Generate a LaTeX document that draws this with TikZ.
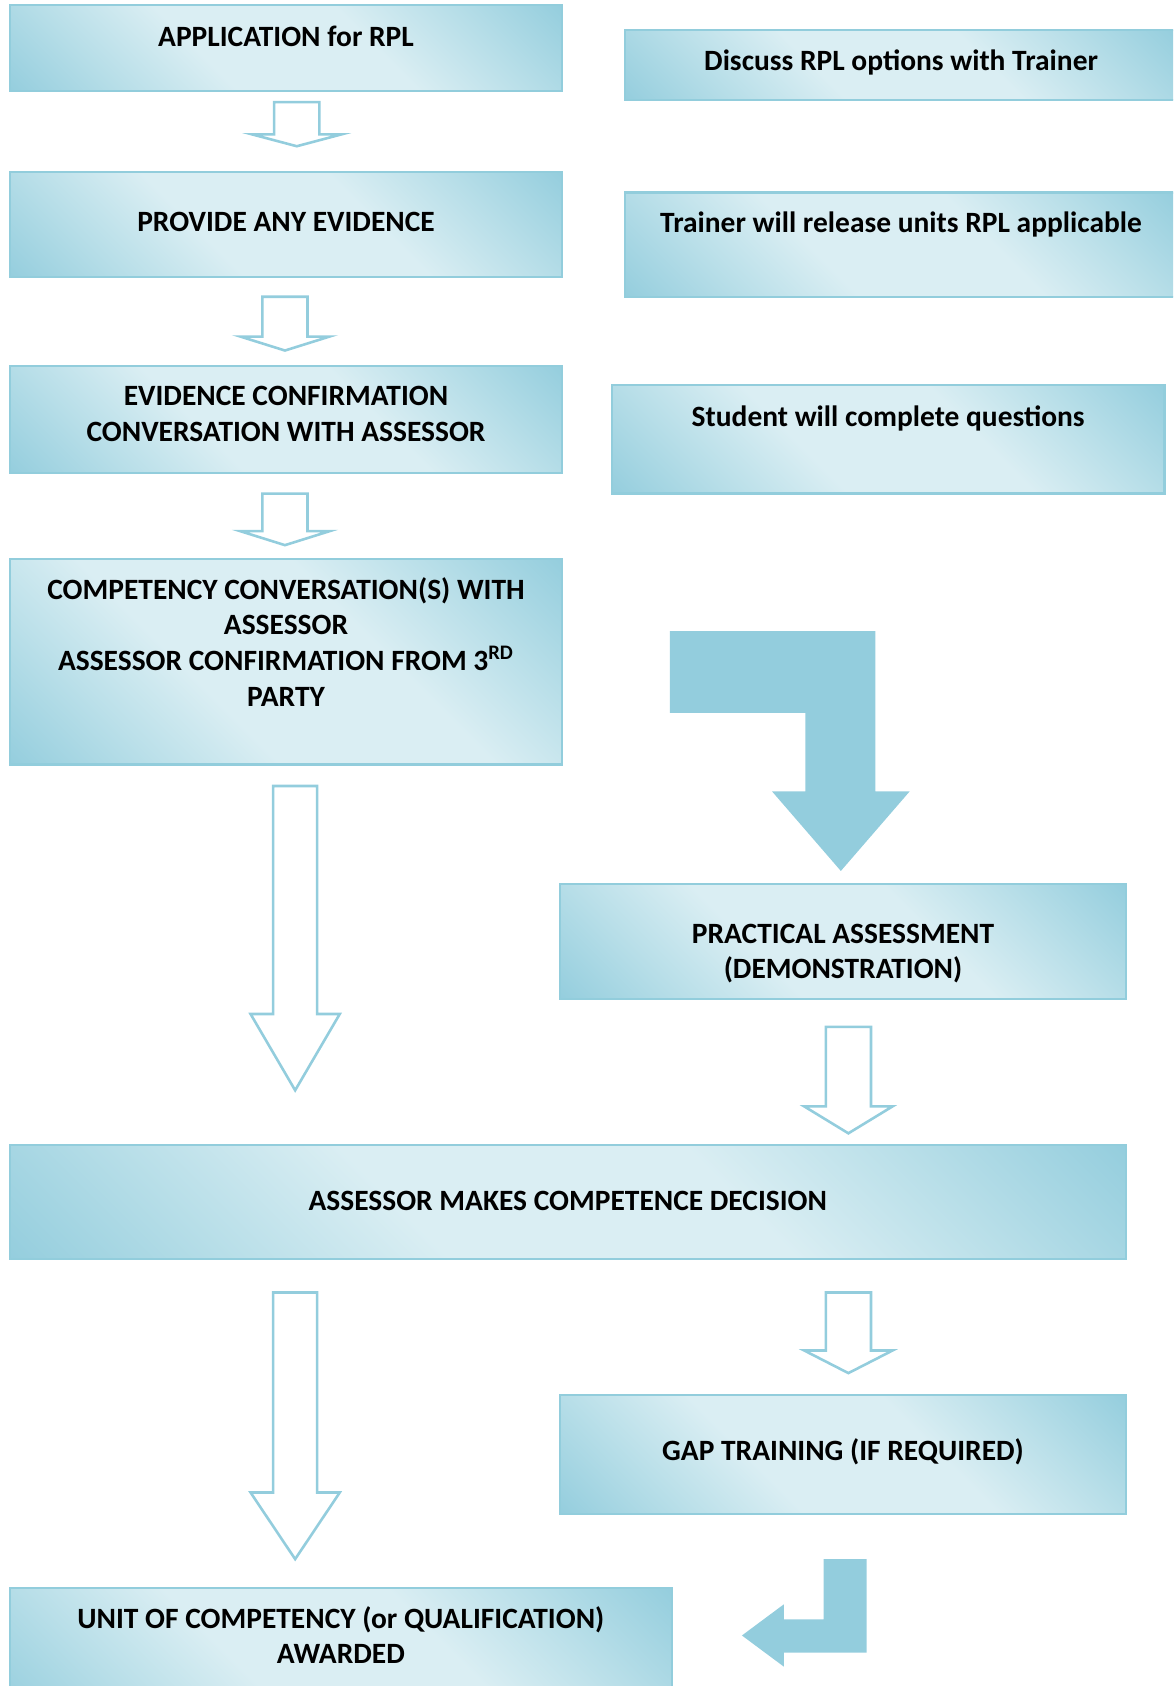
\documentclass[tikz,border=0pt]{standalone}
\usepackage{fontspec}
\setmainfont{Carlito}
\definecolor{dk}{HTML}{93CDDD}
\definecolor{md}{HTML}{B7DEE8}
\definecolor{lt}{HTML}{DAEEF3}
\definecolor{bd}{HTML}{92CDDC}
\pgfdeclarehorizontalshading{boxshade}{100bp}{color(0bp)=(dk); color(14bp)=(dk); color(27bp)=(md); color(40bp)=(lt); color(60bp)=(lt); color(73bp)=(md); color(86bp)=(dk); color(100bp)=(dk)}
\tikzset{
  box/.style={rectangle, draw=bd, line width=1pt, shading=boxshade, shading angle=45, inner sep=0pt},
  lbl/.style={font=\fontsize{13.7}{16.6}\selectfont\bfseries, align=center, inner sep=0pt, anchor=north},
  hollow/.style={draw=dk, line width=1.2pt, fill=white, line join=miter},
  solidarrow/.style={fill=dk, draw=none}
}
\newcommand\mkbox[5]{\node[box, minimum width={(#4-#2)*0.5pt}, minimum height={(#5-#3)*0.5pt}] (#1) at ({(#2+#4)/2},{(#3+#5)/2}) {};}
\newcommand\mktext[4]{\node[lbl] (#1) at (#2,{#3-13.2}) {\rule{0pt}{11pt}#4};}
\newcommand\hollowdown[6]{\draw[hollow] ({#1-#2},#3) -- ({#1+#2},#3) -- ({#1+#2},#4) -- ({#1+#5},#4) -- (#1,#6) -- ({#1-#5},#4) -- ({#1-#2},#4) -- cycle;}
\begin{document}
\begin{tikzpicture}[x=0.5pt,y=-0.5pt]
\useasboundingbox (0,0) rectangle (1091,1568);
\clip (0,0) rectangle (1091,1568);
% boxes
\mkbox{app}{9}{5}{523}{85}
\mkbox{disc}{581}{28}{1095}{93}
\mkbox{prov}{9}{160}{523}{258}
\mkbox{train}{581}{179}{1095}{276}
\mkbox{evid}{9}{340}{523}{440}
\mkbox{stud}{569}{358}{1083}{459}
\mkbox{comp}{9}{520}{523}{711}
\mkbox{prac}{521}{822}{1047}{929}
\mkbox{asse}{9}{1065}{1047}{1171}
\mkbox{gap}{521}{1297}{1047}{1408}
\mkbox{unit}{9}{1477}{625}{1600}
% texts
\mktext{tapp}{266}{34}{APPLICATION for RPL}
\mktext{tdisc}{838}{56}{Discuss RPL options with Trainer}
\mktext{tprov}{266}{206}{PROVIDE ANY EVIDENCE}
\mktext{ttrain}{838}{207}{Trainer will release units RPL applicable}
\mktext{tevid}{266}{368}{EVIDENCE CONFIRMATION\\CONVERSATION WITH ASSESSOR}
\mktext{tstud}{826}{387}{Student will complete questions}
\mktext{tcomp}{266}{548}{COMPETENCY CONVERSATION(S) WITH\\ASSESSOR\\ASSESSOR CONFIRMATION FROM 3\textsuperscript{RD}\\PARTY}
\mktext{tprac}{784}{868}{PRACTICAL ASSESSMENT\\(DEMONSTRATION)}
\mktext{tasse}{528}{1117}{ASSESSOR MAKES COMPETENCE DECISION}
\mktext{tgap}{784}{1349}{GAP TRAINING (IF REQUIRED)}
\mktext{tunit}{317}{1505}{UNIT OF COMPETENCY (or QUALIFICATION)\\AWARDED}
% hollow block arrows
\hollowdown{276}{21}{95}{125}{41.5}{136}
\hollowdown{265}{21}{276}{313}{41.5}{326}
\hollowdown{265}{21}{459}{494}{41.5}{507}
\hollowdown{274.5}{20.5}{731}{943}{41.5}{1014}
\hollowdown{789}{21}{955}{1029}{41}{1054}
\hollowdown{274.5}{20.5}{1202}{1388}{41.5}{1450}
\hollowdown{789}{21}{1202}{1256}{41}{1277}
% solid bent arrows
\fill[solidarrow] (623,587) -- (814,587) -- (814,736) -- (846,736) -- (782,810) -- (718,736) -- (749,736) -- (749,663) -- (623,663) -- cycle;
\fill[solidarrow] (766,1450) -- (806,1450) -- (806,1537) -- (729,1537) -- (729,1550) -- (690,1521) -- (729,1492) -- (729,1506) -- (766,1506) -- cycle;
\end{tikzpicture}
\end{document}
